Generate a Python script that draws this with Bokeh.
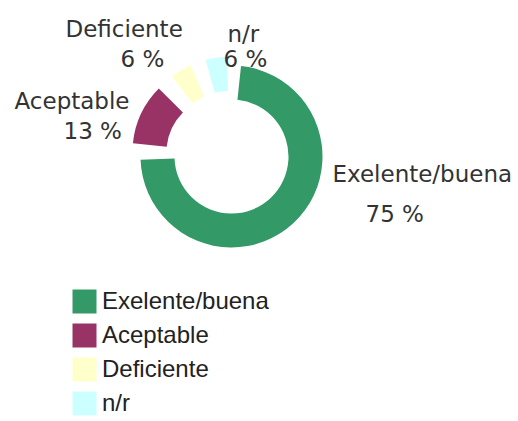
import math
from bokeh.plotting import figure
from bokeh.models import ColumnDataSource, Range1d
from bokeh.core.properties import value
from bokeh.embed import file_html
from bokeh.resources import INLINE

# ---- data ----
categories = ["Exelente/buena", "Aceptable", "Deficiente", "n/r"]
percents = [75, 13, 6, 6]
colors = ["#339966", "#993366", "#FFFFCC", "#CCFFFF"]

# ---- layout (page-pixel coordinates, origin top-left) ----
W, H = 518, 421
def px(X):
    return X
def py(Y):
    return H - Y

CENTER = (231, 156)
R_OUT, R_IN = 91, 57
START_DEG = 88.0     # first slice starts near the top, slices run clockwise
PAD_DEG = 4.0
EXPLODE = [0, 9, 9, 9]
LABEL_POS = [((332, 173), (365, 213)),
             ((14, 100), (63, 130)),
             ((65, 28), (120, 58)),
             ((227, 33), (223, 58))]

total = float(sum(percents))
xs, ys, starts, ends = [], [], [], []
cum = 0.0
for v, ex in zip(percents, EXPLODE):
    c0 = cum / total
    cum += v
    c1 = cum / total
    a0 = START_DEG - c1 * 360 + PAD_DEG
    a1 = START_DEG - c0 * 360 - PAD_DEG
    mid = math.radians((a0 + a1) / 2)
    xs.append(px(CENTER[0]) + ex * math.cos(mid))
    ys.append(py(CENTER[1]) + ex * math.sin(mid))
    starts.append(math.radians(a0))
    ends.append(math.radians(a1))

src = ColumnDataSource(dict(x=xs, y=ys, start=starts, end=ends,
                            color=colors, label=categories))

p = figure(width=W, height=H, x_range=Range1d(0, W), y_range=Range1d(0, H),
           output_backend="svg", toolbar_location=None, tools="",
           x_axis_type=None, y_axis_type=None, min_border=0)
p.grid.visible = False
p.outline_line_color = None
p.background_fill_color = "white"

p.annular_wedge(x="x", y="y", inner_radius=R_IN, outer_radius=R_OUT,
                inner_radius_units="screen", outer_radius_units="screen",
                start_angle="start", end_angle="end", direction="anticlock",
                fill_color="color", line_color=None, source=src,
                legend_field="label")

tx, ty, tt = [], [], []
for cat, v, (pos1, pos2) in zip(categories, percents, LABEL_POS):
    tx += [px(pos1[0]), px(pos2[0])]
    ty += [py(pos1[1]), py(pos2[1])]
    tt += [cat, f"{v} %"]
lsrc = ColumnDataSource(dict(x=tx, y=ty, text=tt))
p.text(x="x", y="y", text="text", source=lsrc,
       text_font=value("DejaVu Sans"), text_font_size=value("23px"),
       text_color="#333333", text_align="left", text_baseline="alphabetic")

lg = p.legend[0]
lg.location = (px(69), H - 286 - (4 * 30 + 3 * 4))
lg.border_line_color = None
lg.background_fill_alpha = 0
lg.padding = 0
lg.margin = 0
lg.spacing = 4
lg.glyph_width = 30
lg.glyph_height = 30
lg.label_height = 30
lg.label_standoff = 3
lg.label_text_font = "Liberation Sans"
lg.label_text_font_size = "24px"
lg.label_text_color = "#222222"

open("out.html", "w").write(file_html(p, INLINE))
